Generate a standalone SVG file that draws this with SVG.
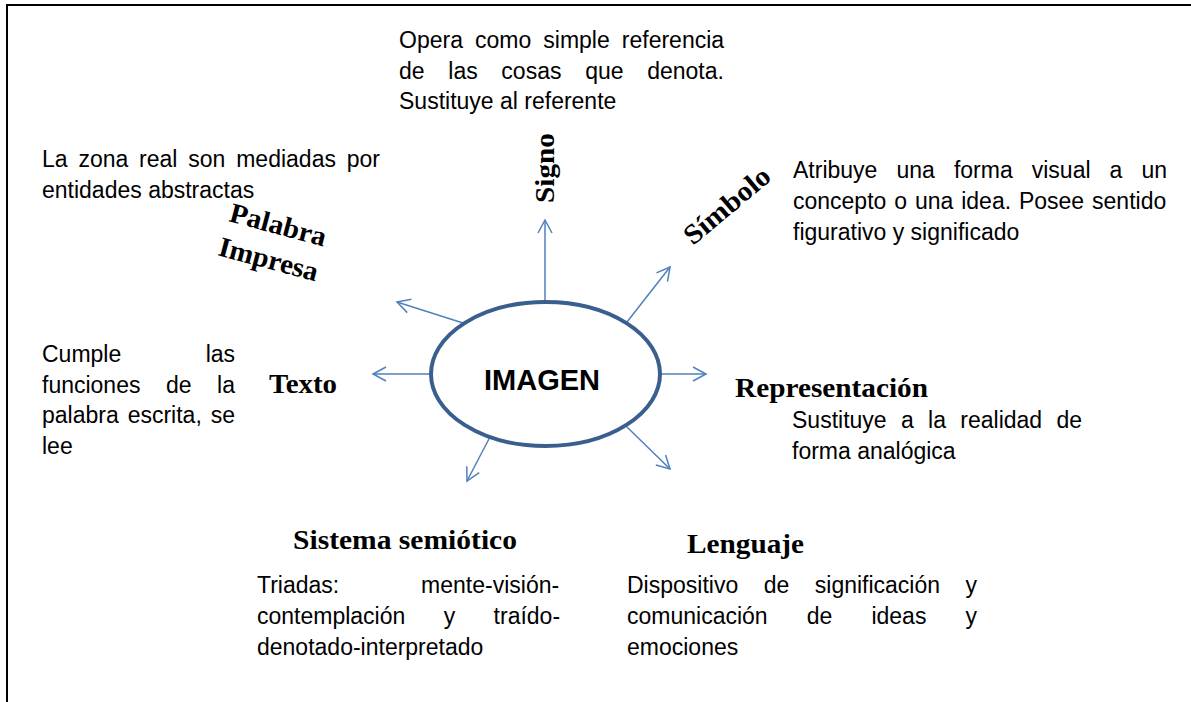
<svg xmlns="http://www.w3.org/2000/svg" width="1191" height="702" viewBox="0 0 1191 702">
<style>
.body{font-family:"Liberation Sans",Arial,sans-serif;font-size:23px;fill:#000}
.lbl{font-family:"Liberation Serif","Times New Roman",serif;font-size:28px;font-weight:bold;fill:#000}
.conn{stroke:#4F81BD;stroke-width:1.5;fill:none}
</style>
<defs>
<marker id="arr" markerUnits="userSpaceOnUse" markerWidth="30" markerHeight="30" refX="15" refY="15" orient="auto" viewBox="0 0 30 30">
<path d="M2,8 L15,15 L2,22" fill="none" stroke="#4F81BD" stroke-width="1.5"/>
</marker>
</defs>
<rect x="0" y="0" width="1191" height="702" fill="#fff"/>
<path d="M7,702 L7,5 L1191,5" fill="none" stroke="#000" stroke-width="2"/>

<g id="connectors">
<line class="conn" x1="545" y1="302" x2="545" y2="220" marker-end="url(#arr)"/>
<line class="conn" x1="627" y1="322" x2="670" y2="267" marker-end="url(#arr)"/>
<line class="conn" x1="660" y1="374" x2="706" y2="374" marker-end="url(#arr)"/>
<line class="conn" x1="627" y1="427" x2="670" y2="469" marker-end="url(#arr)"/>
<line class="conn" x1="491" y1="435" x2="467" y2="481" marker-end="url(#arr)"/>
<line class="conn" x1="431" y1="374" x2="373" y2="374" marker-end="url(#arr)"/>
<line class="conn" x1="463" y1="323" x2="397" y2="302" marker-end="url(#arr)"/>
</g>

<g id="imagen">
<ellipse cx="545.5" cy="374" rx="114.5" ry="72" fill="#fff" stroke="#3A5F8F" stroke-width="4"/>
<text x="542" y="390" text-anchor="middle" font-family="Liberation Sans, Arial, sans-serif" font-weight="bold" font-size="30" textLength="116" lengthAdjust="spacingAndGlyphs">IMAGEN</text>
</g>

<g id="signo">
<text class="lbl" font-size="29" transform="translate(554,203) rotate(-90)" textLength="70" lengthAdjust="spacingAndGlyphs">Signo</text>
<text class="body" x="399" y="48" word-spacing="5.67">Opera como simple referencia</text>
<text class="body" x="399" y="78.5" word-spacing="17.3">de las cosas que denota.</text>
<text class="body" x="399" y="109">Sustituye al referente</text>
</g>

<g id="simbolo">
<text class="lbl" font-size="28" transform="translate(693,246) rotate(-40)" textLength="104" lengthAdjust="spacingAndGlyphs">Símbolo</text>
<text class="body" x="793" y="178" word-spacing="12.68">Atribuye una forma visual a un</text>
<text class="body" x="793" y="209" word-spacing="1.5">concepto o una idea. Posee sentido</text>
<text class="body" x="793" y="240">figurativo y significado</text>
</g>

<g id="palabra-impresa">
<text class="lbl" transform="translate(228,221) rotate(15)" textLength="99" lengthAdjust="spacingAndGlyphs">Palabra</text>
<text class="lbl" transform="translate(217,255) rotate(15)" textLength="102" lengthAdjust="spacingAndGlyphs">Impresa</text>
<text class="body" x="42" y="167" word-spacing="4.44">La zona real son mediadas por</text>
<text class="body" x="42" y="198">entidades abstractas</text>
</g>

<g id="texto">
<text class="lbl" x="269" y="393" textLength="68" lengthAdjust="spacingAndGlyphs">Texto</text>
<text class="body" x="42" y="362" word-spacing="78">Cumple las</text>
<text class="body" x="42" y="393" word-spacing="19.15">funciones de la</text>
<text class="body" x="42" y="423" word-spacing="2.55">palabra escrita, se</text>
<text class="body" x="42" y="454">lee</text>
</g>

<g id="representacion">
<text class="lbl" x="735" y="397" textLength="193" lengthAdjust="spacingAndGlyphs">Representación</text>
<text class="body" x="792" y="428" word-spacing="7.95">Sustituye a la realidad de</text>
<text class="body" x="792" y="459">forma analógica</text>
</g>

<g id="sistema">
<text class="lbl" x="293" y="549" textLength="224" lengthAdjust="spacingAndGlyphs">Sistema semiótico</text>
<text class="body" x="257" y="593" word-spacing="75.5">Triadas: mente-visión-</text>
<text class="body" x="257" y="624" word-spacing="32">contemplación y traído-</text>
<text class="body" x="257" y="655">denotado-interpretado</text>
</g>

<g id="lenguaje">
<text class="lbl" x="687" y="553" textLength="117" lengthAdjust="spacingAndGlyphs">Lenguaje</text>
<text class="body" x="627" y="593" word-spacing="19.1">Dispositivo de significación y</text>
<text class="body" x="627" y="624" word-spacing="32.7">comunicación de ideas y</text>
<text class="body" x="627" y="655">emociones</text>
</g>
</svg>
